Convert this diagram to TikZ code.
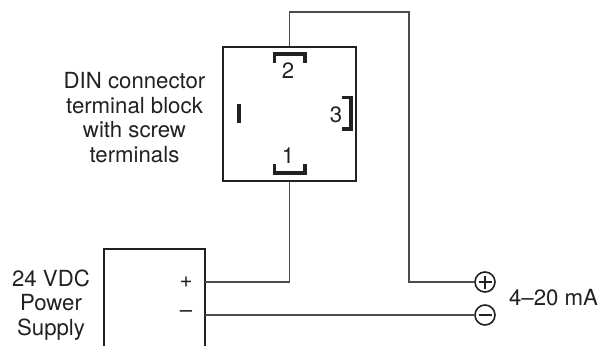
\documentclass[tikz,border=0pt]{standalone}
\usepackage{fontspec}
\setmainfont{TeX Gyre Heros}
\definecolor{inkdark}{gray}{0.13}
\definecolor{wiregray}{gray}{0.3}
\tikzset{
  wire/.style={draw=wiregray,line width=1.1pt},
  outline/.style={draw=inkdark,line width=1.9pt},
  pin/.style={draw=inkdark,line width=3.6pt},
  label/.style={text=inkdark,font=\fontsize{22.2}{24.5}\selectfont,align=center,inner sep=0pt},
  lug/.style={circle,draw=inkdark,line width=1.6pt,minimum size=20pt,inner sep=0pt}
}

\begin{document}
\begin{tikzpicture}[x=1pt,y=-1pt]
\useasboundingbox (0,0) rectangle (606,346);

%terminal block
\node[outline,minimum width=133pt,minimum height=134pt,inner sep=0pt] (block) at (289.8,113.7) {};
\draw[pin] (274.5,62.5) -- (274.5,54) -- (305,54) -- (305,62.5);
\draw[pin] (274.5,164) -- (274.5,173) -- (305,173) -- (305,164);
\draw[pin] (342,97.5) -- (351,97.5) -- (351,129) -- (342,129);
\draw[pin,line width=4.8pt] (239,104) -- (239,123);
\node[label] (pinone) at (288,156) {1};
\node[label] (pintwo) at (288,71) {2};
\node[label] (pinthree) at (336,114.5) {3};
\node[label] (blocktext) at (134.5,117.5) {DIN connector\\terminal block\\with screw\\terminals};

%power supply
\coordinate (psbl) at (104,346);
\coordinate (psbr) at (205,346);
\coordinate (psplus) at (205,282);
\coordinate (psminus) at (205,315);
\draw[outline] (psbl) |- (205,249) -- (psbr);
\node[label] (plus) at (186,282.5) {+};
\node[label] (minus) at (186,314) {–};
\node[label] (pstext) at (51,305) {24 VDC\\Power\\Supply};

%output
\node[lug] (lugplus) at (485,282) {};
\node[lug] (lugminus) at (485,315) {};
\draw[inkdark,line width=1.2pt] (lugplus.center) +(-6.5,0) -- +(6.5,0) (lugplus.center) +(0,-6.5) -- +(0,6.5);
\draw[inkdark,line width=1.2pt] (lugminus.center) +(-6.5,0) -- +(6.5,0);
\node[label] (outtext) at (553.5,298) {4–20 mA};

%wires
\coordinate (bend) at (409,12);
\draw[wire] (block.north) |- (bend) |- (lugplus.west);
\draw[wire] (block.south) |- (psplus);
\draw[wire,line width=1.4pt] (psminus) -- (lugminus.west);

\end{tikzpicture}
\end{document}
